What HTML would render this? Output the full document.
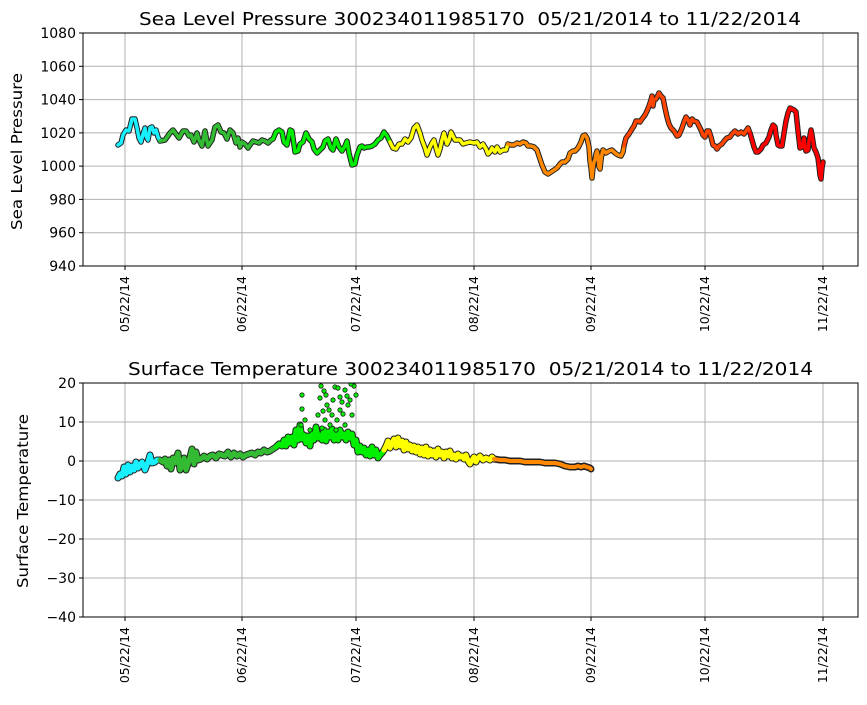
<!DOCTYPE html>
<html><head><meta charset="utf-8"><style>
body{margin:0;background:#fff}
svg text{font-family:"DejaVu Sans","Liberation Sans",sans-serif;fill:#000}
</style></head><body>
<svg width="867" height="700" viewBox="0 0 867 700" xmlns="http://www.w3.org/2000/svg">
<rect width="867" height="700" fill="#fff"/>
<g stroke="#b0b0b0" stroke-width="1">
<line x1="125" y1="33" x2="125" y2="266"/><line x1="242" y1="33" x2="242" y2="266"/><line x1="356" y1="33" x2="356" y2="266"/><line x1="474" y1="33" x2="474" y2="266"/><line x1="591" y1="33" x2="591" y2="266"/><line x1="705" y1="33" x2="705" y2="266"/><line x1="823" y1="33" x2="823" y2="266"/>
<line x1="83" y1="66.3" x2="858" y2="66.3"/><line x1="83" y1="99.6" x2="858" y2="99.6"/><line x1="83" y1="132.9" x2="858" y2="132.9"/><line x1="83" y1="166.1" x2="858" y2="166.1"/><line x1="83" y1="199.4" x2="858" y2="199.4"/><line x1="83" y1="232.7" x2="858" y2="232.7"/>
<line x1="125" y1="383" x2="125" y2="617"/><line x1="242" y1="383" x2="242" y2="617"/><line x1="356" y1="383" x2="356" y2="617"/><line x1="474" y1="383" x2="474" y2="617"/><line x1="591" y1="383" x2="591" y2="617"/><line x1="705" y1="383" x2="705" y2="617"/><line x1="823" y1="383" x2="823" y2="617"/>
<line x1="83" y1="422" x2="858" y2="422"/><line x1="83" y1="461" x2="858" y2="461"/><line x1="83" y1="500" x2="858" y2="500"/><line x1="83" y1="539" x2="858" y2="539"/><line x1="83" y1="578" x2="858" y2="578"/>
</g>

<g fill="none" stroke-linejoin="round" stroke-linecap="round">
<g stroke="#222" stroke-width="5.5">
<polyline points="118,145 121,143 123,135 126,130 129,131 132,119 135,119 137,128 139,138 141,142 143,134 145,128 146,136 148,140 150,128 152,127 154,133 156,130 158,137 160,141 165,140 170,133 173,130 176,134 179,138 183,131 186,131 189,136 191,135 194,142 197,133 199,140 202,146 205,131 208,146 212,140 215,127 218,125 221,132 224,133 227,139 230,130 233,133 236,143 238,138 240,147 242,142 245,144 248,148 250,145 253,141 256,142 259,143 262,140 265,141 268,143 271,140 273,139 276,132 279,130 282,132 284,142 287,145 290,130 292,131 295,152 298,151 300,144 303,142 306,133 309,139 312,142 314,149 317,153 320,150 323,147 325,141 328,139 331,148 333,150 336,139 339,147 342,151 345,146 347,141 349,153 352,165 355,164 357,155 360,147 362,146 364,148 367,147 369,147 372,146 375,144 378,140 381,138 384,132 387,136 390,142 393,148 396,149 399,144 402,144 405,139 408,142 411,138 414,128 417,125 420,133 422,140 425,148 427,155 430,147 432,143 434,140 436,148 438,155 440,149 442,140 444,133 447,144 449,140 451,132 453,136 455,140 457,140 460,140 463,144 466,143 470,142 474,143 477,142 480,147 483,144 486,149 488,154 490,152 492,148 495,152 497,147 500,152 503,150 506,150 508,144 511,145 514,145 517,143 520,144 523,142 526,143 528,146 531,146 534,147 537,150 539,156 542,165 545,172 548,174 551,172 554,170 557,168 560,164 562,162 565,162 568,159 570,153 573,151 575,151 578,148 581,142 583,136 585,135 587,138 589,147 590,161 591,168 592,178 593,168 594,162 595,160 596,154 597,151 598,155 599,167 600,169 601,160 602,154 603,150 606,153 609,151 612,150 615,153 618,155 621,156 623,152 624,146 626,138 629,134 632,129 634,126 636,121 638,121 640,122 642,119 645,115 647,111 649,106 651,100 652,96 653,106 654,100 656,99 659,93 661,96 663,98 665,108 667,117 669,124 671,128 674,131 677,136 679,135 682,128 684,122 686,117 688,120 690,125 692,119 694,121 697,122 699,126 701,130 703,135 705,137 707,131 709,131 711,137 713,145 715,146 717,149 719,146 722,144 725,140 727,138 730,137 732,134 735,131 738,134 741,132 744,134 746,131 748,128 750,133 752,140 754,147 756,152 758,152 761,149 763,145 766,143 769,137 771,130 773,125 775,127 776,135 778,145 780,146 782,146 784,133 786,121 788,113 790,108 792,109 794,110 796,112 798,131 800,148 802,147 804,138 805,148 806,151 808,150 809,141 811,130 812,135 814,148 816,152 818,158 819,166 820,175 821,179 822,168 823,162"/>
</g>
<g stroke-width="3.5">
<polyline stroke="#19f0ff" points="118,145 121,143 123,135 126,130 129,131 132,119 135,119 137,128 139,138 141,142 143,134 145,128 146,136 148,140 150,128 152,127 154,133 156,130 158,137 160,141"/>
<polyline stroke="#33bb33" points="160,141 165,140 170,133 173,130 176,134 179,138 183,131 186,131 189,136 191,135 194,142 197,133 199,140 202,146 205,131 208,146 212,140 215,127 218,125 221,132 224,133 227,139 230,130 233,133 236,143 238,138 240,147 242,142 245,144 248,148 250,145 253,141 256,142 259,143 262,140 265,141 268,143 271,140 273,139"/>
<polyline stroke="#00ee00" points="273,139 276,132 279,130 282,132 284,142 287,145 290,130 292,131 295,152 298,151 300,144 303,142 306,133 309,139 312,142 314,149 317,153 320,150 323,147 325,141 328,139 331,148 333,150 336,139 339,147 342,151 345,146 347,141 349,153 352,165 355,164 357,155 360,147 362,146 364,148 367,147 369,147 372,146 375,144 378,140 381,138 384,132 387,136 390,142"/>
<polyline stroke="#ffff00" points="390,142 393,148 396,149 399,144 402,144 405,139 408,142 411,138 414,128 417,125 420,133 422,140 425,148 427,155 430,147 432,143 434,140 436,148 438,155 440,149 442,140 444,133 447,144 449,140 451,132 453,136 455,140 457,140 460,140 463,144 466,143 470,142 474,143 477,142 480,147 483,144 486,149 488,154 490,152 492,148 495,152 497,147 500,152 503,150 506,150 508,144"/>
<polyline stroke="#ff8800" points="508,144 511,145 514,145 517,143 520,144 523,142 526,143 528,146 531,146 534,147 537,150 539,156 542,165 545,172 548,174 551,172 554,170 557,168 560,164 562,162 565,162 568,159 570,153 573,151 575,151 578,148 581,142 583,136 585,135 587,138 589,147 590,161 591,168 592,178 593,168 594,162 595,160 596,154 597,151 598,155 599,167 600,169 601,160 602,154 603,150 606,153 609,151 612,150 615,153 618,155 621,156 623,152 624,146"/>
<polyline stroke="#ff4400" points="624,146 626,138 629,134 632,129 634,126 636,121 638,121 640,122 642,119 645,115 647,111 649,106 651,100 652,96 653,106 654,100 656,99 659,93 661,96 663,98 665,108 667,117 669,124 671,128 674,131 677,136 679,135 682,128 684,122 686,117 688,120 690,125 692,119 694,121 697,122 699,126 701,130 703,135 705,137 707,131 709,131 711,137 713,145 715,146 717,149 719,146 722,144 725,140 727,138 730,137 732,134 735,131 738,134 741,132 744,134 746,131 748,128 750,133"/>
<polyline stroke="#ff0000" points="750,133 752,140 754,147 756,152 758,152 761,149 763,145 766,143 769,137 771,130 773,125 775,127 776,135 778,145 780,146 782,146 784,133 786,121 788,113 790,108 792,109 794,110 796,112 798,131 800,148 802,147 804,138 805,148 806,151 808,150 809,141 811,130 812,135 814,148 816,152 818,158 819,166 820,175 821,179 822,168 823,162"/>
</g>
</g>

<svg x="83" y="383" width="775" height="234" overflow="hidden">
<g transform="translate(-83,-383)" fill="none" stroke-linejoin="round" stroke-linecap="round">
<g stroke="#222" stroke-width="7">
<polyline points="118,478 120,474 122,476 124,467 126,474 128,465 130,472 132,466 134,470 136,462 138,468 140,465 142,462 145,470 147,465 150,455 152,463 155,462 157,460 160,460 163,462 165,459 167,466 169,460 171,469 173,458 175,463 178,453 180,470 182,466 184,458 186,470 188,464 190,457 192,449 194,464 196,452 198,460 201,459 204,456 207,459 210,456 213,455 216,458 219,454 222,455 225,456 228,452 231,457 234,453 237,456 240,454 243,457 246,455 249,454 252,453 255,455 258,452 261,453 264,450 267,452 270,451 273,449 276,447 279,444 282,446 284,440 286,446 288,437 290,443 292,437 294,445 296,430 298,440 300,425 302,439 304,435 306,443 308,436 310,446 312,434 314,440 316,427 318,438 320,435 322,440 324,430 326,441 328,432 330,437 332,429 334,440 336,432 338,440 340,430 342,437 344,434 346,440 348,432 350,438 352,434 354,445 356,440 358,452 360,446 362,452 364,448 366,455 368,450 370,456 372,447 374,455 376,450 378,458 380,455 382,453 384,450 386,446 388,441 390,448 392,443 394,439 396,447 398,438 400,446 402,441 404,450 406,442 408,449 410,445 412,451 414,446 416,452 418,447 420,454 422,448 424,455 426,447 428,456 430,450 432,455 434,451 436,457 438,449 440,455 442,452 444,458 446,452 448,456 450,451 452,458 454,455 456,459 458,454 460,457 462,456 464,459 466,455 468,461 470,464 472,460 474,457 476,462 478,458 480,456 483,460 486,458 488,459 490,460 492,457 494,459 500,460 505,460 510,461 515,461 520,461 525,462 530,462 535,462 540,462 545,463 550,463 555,463 560,464 565,466 570,467 575,467 578,466 581,467 584,466 587,467 590,468 591,469"/>
</g>
<g stroke-width="5">
<polyline stroke="#19f0ff" points="118,478 120,474 122,476 124,467 126,474 128,465 130,472 132,466 134,470 136,462 138,468 140,465 142,462 145,470 147,465 150,455 152,463 155,462 157,460 160,460"/>
<polyline stroke="#33bb33" points="160,460 163,462 165,459 167,466 169,460 171,469 173,458 175,463 178,453 180,470 182,466 184,458 186,470 188,464 190,457 192,449 194,464 196,452 198,460 201,459 204,456 207,459 210,456 213,455 216,458 219,454 222,455 225,456 228,452 231,457 234,453 237,456 240,454 243,457 246,455 249,454 252,453 255,455 258,452 261,453 264,450 267,452 270,451 273,449 276,447"/>
<polyline stroke="#00ee00" points="276,447 279,444 282,446 284,440 286,446 288,437 290,443 292,437 294,445 296,430 298,440 300,425 302,439 304,435 306,443 308,436 310,446 312,434 314,440 316,427 318,438 320,435 322,440 324,430 326,441 328,432 330,437 332,429 334,440 336,432 338,440 340,430 342,437 344,434 346,440 348,432 350,438 352,434 354,445 356,440 358,452 360,446 362,452 364,448 366,455 368,450 370,456 372,447 374,455 376,450 378,458 380,455 382,453 384,450"/>
<polyline stroke="#ffff00" points="384,450 386,446 388,441 390,448 392,443 394,439 396,447 398,438 400,446 402,441 404,450 406,442 408,449 410,445 412,451 414,446 416,452 418,447 420,454 422,448 424,455 426,447 428,456 430,450 432,455 434,451 436,457 438,449 440,455 442,452 444,458 446,452 448,456 450,451 452,458 454,455 456,459 458,454 460,457 462,456 464,459 466,455 468,461 470,464 472,460 474,457 476,462 478,458 480,456 483,460 486,458 488,459 490,460 492,457 494,459"/>
<polyline stroke="#ff8800" stroke-width="4" points="494,459 500,460 505,460 510,461 515,461 520,461 525,462 530,462 535,462 540,462 545,463 550,463 555,463 560,464 565,466 570,467 575,467 578,466 581,467 584,466 587,467 590,468 591,469"/>
</g>
<g fill="#00ee00" stroke="#222" stroke-width="0.8">
<circle cx="302" cy="395" r="2.2"/><circle cx="302" cy="409" r="2.2"/><circle cx="305" cy="420" r="2.2"/><circle cx="301" cy="425" r="2.2"/><circle cx="321" cy="386" r="2.2"/><circle cx="324" cy="391" r="2.2"/><circle cx="320" cy="398" r="2.2"/><circle cx="326" cy="395" r="2.2"/><circle cx="327" cy="405" r="2.2"/><circle cx="329" cy="410" r="2.2"/><circle cx="335" cy="387" r="2.2"/><circle cx="338" cy="388" r="2.2"/><circle cx="340" cy="397" r="2.2"/><circle cx="345" cy="390" r="2.2"/><circle cx="347" cy="396" r="2.2"/><circle cx="348" cy="405" r="2.2"/><circle cx="352" cy="415" r="2.2"/><circle cx="345" cy="425" r="2.2"/><circle cx="318" cy="415" r="2.2"/><circle cx="330" cy="425" r="2.2"/><circle cx="337" cy="420" r="2.2"/><circle cx="325" cy="420" r="2.2"/><circle cx="340" cy="410" r="2.2"/><circle cx="350" cy="400" r="2.2"/><circle cx="354" cy="386" r="2.2"/><circle cx="351" cy="384" r="2.2"/><circle cx="333" cy="400" r="2.2"/><circle cx="342" cy="402" r="2.2"/><circle cx="356" cy="395" r="2.2"/><circle cx="323" cy="411" r="2.2"/><circle cx="332" cy="415" r="2.2"/><circle cx="343" cy="414" r="2.2"/><circle cx="336" cy="430" r="2.2"/><circle cx="322" cy="428" r="2.2"/><circle cx="310" cy="430" r="2.2"/>
</g>
</g>
</svg>

<rect x="83" y="33" width="775" height="233" fill="none" stroke="#000" stroke-width="1"/>
<rect x="83" y="383" width="775" height="234" fill="none" stroke="#000" stroke-width="1"/>
<g stroke="#000" stroke-width="1">
<line x1="79" y1="33" x2="83" y2="33"/><line x1="79" y1="66.3" x2="83" y2="66.3"/><line x1="79" y1="99.6" x2="83" y2="99.6"/><line x1="79" y1="132.9" x2="83" y2="132.9"/><line x1="79" y1="166.1" x2="83" y2="166.1"/><line x1="79" y1="199.4" x2="83" y2="199.4"/><line x1="79" y1="232.7" x2="83" y2="232.7"/><line x1="79" y1="266" x2="83" y2="266"/>
<line x1="79" y1="383" x2="83" y2="383"/><line x1="79" y1="422" x2="83" y2="422"/><line x1="79" y1="461" x2="83" y2="461"/><line x1="79" y1="500" x2="83" y2="500"/><line x1="79" y1="539" x2="83" y2="539"/><line x1="79" y1="578" x2="83" y2="578"/><line x1="79" y1="617" x2="83" y2="617"/>
<line x1="125" y1="266" x2="125" y2="270"/><line x1="242" y1="266" x2="242" y2="270"/><line x1="356" y1="266" x2="356" y2="270"/><line x1="474" y1="266" x2="474" y2="270"/><line x1="591" y1="266" x2="591" y2="270"/><line x1="705" y1="266" x2="705" y2="270"/><line x1="823" y1="266" x2="823" y2="270"/>
<line x1="125" y1="617" x2="125" y2="621"/><line x1="242" y1="617" x2="242" y2="621"/><line x1="356" y1="617" x2="356" y2="621"/><line x1="474" y1="617" x2="474" y2="621"/><line x1="591" y1="617" x2="591" y2="621"/><line x1="705" y1="617" x2="705" y2="621"/><line x1="823" y1="617" x2="823" y2="621"/>
</g>

<text x="139" y="25" font-size="18" textLength="662" lengthAdjust="spacingAndGlyphs" xml:space="preserve">Sea Level Pressure 300234011985170  05/21/2014 to 11/22/2014</text>
<text x="128" y="375" font-size="18" textLength="685" lengthAdjust="spacingAndGlyphs" xml:space="preserve">Surface Temperature 300234011985170  05/21/2014 to 11/22/2014</text>
<text transform="translate(22,230) rotate(-90)" font-size="15" textLength="157" lengthAdjust="spacingAndGlyphs">Sea Level Pressure</text>
<text transform="translate(28,588) rotate(-90)" font-size="15" textLength="174" lengthAdjust="spacingAndGlyphs">Surface Temperature</text>

<g font-size="14" text-anchor="end">
<text x="76" y="38">1080</text><text x="76" y="71.3">1060</text><text x="76" y="104.6">1040</text><text x="76" y="137.9">1020</text><text x="76" y="171.1">1000</text><text x="76" y="204.4">980</text><text x="76" y="237.7">960</text><text x="76" y="271">940</text>
<text x="76" y="388">20</text><text x="76" y="427">10</text><text x="76" y="466">0</text><text x="76" y="505">−10</text><text x="76" y="544">−20</text><text x="76" y="583">−30</text><text x="76" y="622">−40</text>
</g>
<g font-size="12.5" text-anchor="end">
<text transform="translate(129,276) rotate(-90)">05/22/14</text><text transform="translate(246,276) rotate(-90)">06/22/14</text><text transform="translate(360,276) rotate(-90)">07/22/14</text><text transform="translate(478,276) rotate(-90)">08/22/14</text><text transform="translate(595,276) rotate(-90)">09/22/14</text><text transform="translate(709,276) rotate(-90)">10/22/14</text><text transform="translate(827,276) rotate(-90)">11/22/14</text>
<text transform="translate(129,627) rotate(-90)">05/22/14</text><text transform="translate(246,627) rotate(-90)">06/22/14</text><text transform="translate(360,627) rotate(-90)">07/22/14</text><text transform="translate(478,627) rotate(-90)">08/22/14</text><text transform="translate(595,627) rotate(-90)">09/22/14</text><text transform="translate(709,627) rotate(-90)">10/22/14</text><text transform="translate(827,627) rotate(-90)">11/22/14</text>
</g>
</svg>
</body></html>
